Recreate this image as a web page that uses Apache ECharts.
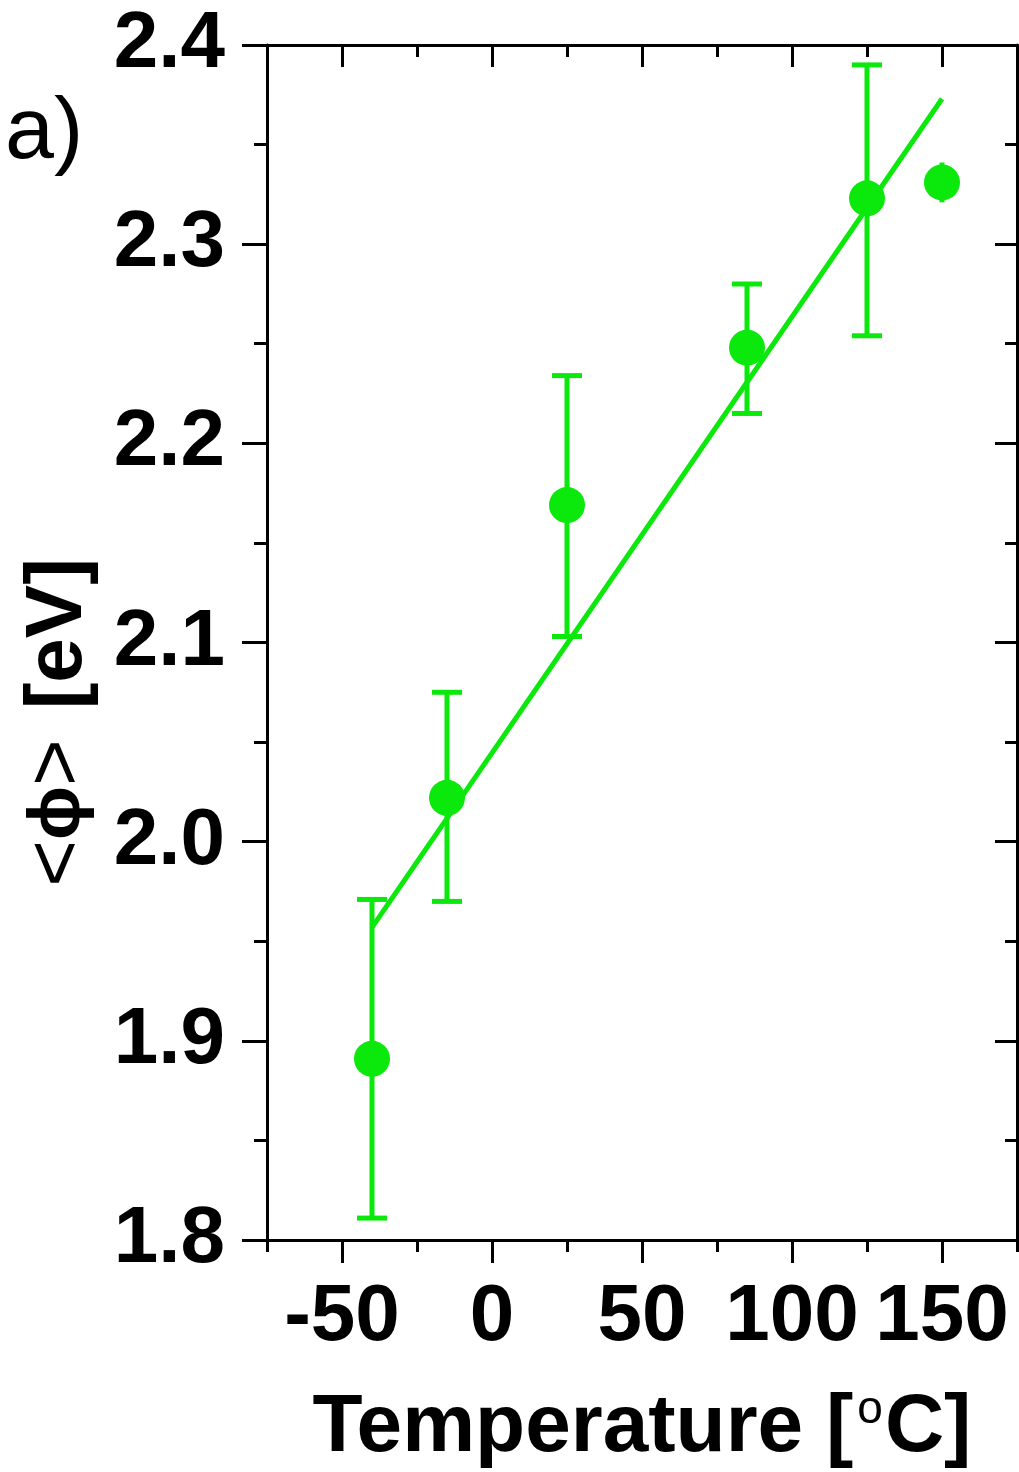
<!DOCTYPE html>
<html><head><meta charset="utf-8">
<script src="https://cdn.jsdelivr.net/npm/echarts@6/dist/echarts.min.js"></script>
<style>html,body{margin:0;padding:0;background:#fff}#c{width:1019px;height:1472px}</style>
</head><body><div id="c"></div>
<script>
// ---- data ----
const temperatures = [-40, -15, 25, 85, 125, 150];
const phiMean  = [1.891, 2.022, 2.169, 2.248, 2.323, 2.331];
const phiUpper = [1.971, 2.075, 2.234, 2.280, 2.390, 2.341];
const phiLower = [1.811, 1.970, 2.103, 2.215, 2.254, 2.321];
const fitX = [-40, 150];
const fitY = [1.957, 2.373];
const xRange = [-75, 175];
const xMajorTicks = [-50, 0, 50, 100, 150];
const xMinorTicks = [-75, -25, 25, 75, 125, 175];
const yTicks = [1.8, 1.9, 2.0, 2.1, 2.2, 2.3, 2.4];

const GREEN = '#0be80b';
const FONT = 'Liberation Sans, Arial, sans-serif';

const chart = echarts.init(document.getElementById('c'), null, {renderer: 'canvas'});

function xAxisDef(pos, ticks, len, opts) {
  return Object.assign({
    type: 'value', position: pos, min: xRange[0], max: xRange[1],
    axisLine: {show: false, lineStyle: {color: '#000', width: 3}},
    axisTick: {show: true, customValues: ticks, length: len, inside: pos === 'top',
               lineStyle: {color: '#000', width: 3}},
    axisLabel: {show: false},
    splitLine: {show: false}
  }, opts || {});
}

const option = {
  animation: false,
  backgroundColor: '#fff',
  grid: {left: 267, right: 2, top: 45, bottom: 232, containLabel: false, outerBoundsMode: 'none'},
  xAxis: [
    xAxisDef('bottom', xMajorTicks, 23, {
      axisLine: {show: true, onZero: false, lineStyle: {color: '#000', width: 3}},
      axisLabel: {show: true, customValues: xMajorTicks, margin: 38, fontSize: 80, fontWeight: 'bold',
                  fontFamily: FONT, color: '#000'},
      name: 'Temperature [{o|o}C]',
      nameLocation: 'middle', nameGap: 147, nameMoveOverlap: false,
      nameTextStyle: {fontSize: 82, fontWeight: 'bold', fontFamily: FONT, color: '#000',
        rich: {o: {fontSize: 46, fontWeight: 'normal', fontFamily: FONT, color: '#000', verticalAlign: 'top', padding: [0, 2, 0, 4]}}}
    }),
    xAxisDef('bottom', xMinorTicks, 12),
    xAxisDef('top', xMajorTicks, 22, {axisLine: {show: true, onZero: false, lineStyle: {color: '#000', width: 3}}}),
    xAxisDef('top', xMinorTicks, 12)
  ],
  yAxis: [
    {
      type: 'value', position: 'left', min: yTicks[0], max: yTicks[yTicks.length - 1], interval: 0.1,
      axisLine: {show: true, onZero: false, lineStyle: {color: '#000', width: 3}},
      axisTick: {show: true, length: 25, lineStyle: {color: '#000', width: 3}},
      minorTick: {show: true, splitNumber: 2, length: 13, lineStyle: {color: '#000', width: 3}},
      axisLabel: {margin: 42, fontSize: 80, fontWeight: 'bold', fontFamily: FONT, color: '#000',
                  formatter: v => v.toFixed(1)},
      splitLine: {show: false},
      name: '{s|<}{p|ϕ}{r|>}[eV]',
      nameLocation: 'middle', nameGap: 168, nameRotate: 90, nameMoveOverlap: false,
      nameTextStyle: {fontSize: 80, fontWeight: 'bold', fontFamily: FONT, color: '#000',
        padding: [0, 160, 0, 0],
        rich: {
          s: {fontSize: 80, fontWeight: 'normal', fontFamily: FONT, color: '#000'},
          r: {fontSize: 80, fontWeight: 'normal', fontFamily: FONT, color: '#000', padding: [0, 30, 0, 0]},
          p: {fontSize: 72, fontWeight: 'bold', fontFamily: FONT, color: '#000'}
        }}
    },
    {
      type: 'value', position: 'right', min: yTicks[0], max: yTicks[yTicks.length - 1], interval: 0.1,
      axisLine: {show: true, onZero: false, lineStyle: {color: '#000', width: 3}},
      axisTick: {show: true, inside: true, length: 22, lineStyle: {color: '#000', width: 3}},
      minorTick: {show: true, splitNumber: 2, length: 12, lineStyle: {color: '#000', width: 3}},
      axisLabel: {show: false},
      splitLine: {show: false}
    }
  ],
  graphic: [{
    type: 'text', left: 5, top: 90,
    style: {text: 'a)', font: 'normal 88px ' + FONT, fill: '#000'}
  }],
  series: [
    {
      type: 'custom', xAxisIndex: 0, yAxisIndex: 0, z: 2,
      data: temperatures.map((t, i) => [t, phiLower[i], phiUpper[i]]),
      encode: {x: 0, y: [1, 2]},
      renderItem: function (params, api) {
        const x = api.value(0);
        const pLo = api.coord([x, api.value(1)]);
        const pHi = api.coord([x, api.value(2)]);
        const half = 15;
        const st = {stroke: GREEN, lineWidth: 5};
        const children = [
          {type: 'line', shape: {x1: pHi[0], y1: pHi[1], x2: pLo[0], y2: pLo[1]}, style: st}
        ];
        if (pLo[1] - pHi[1] > 45) {
          children.push({type: 'line', shape: {x1: pHi[0] - half, y1: pHi[1], x2: pHi[0] + half, y2: pHi[1]}, style: st});
          children.push({type: 'line', shape: {x1: pLo[0] - half, y1: pLo[1], x2: pLo[0] + half, y2: pLo[1]}, style: st});
        }
        return {type: 'group', children: children};
      }
    },
    {
      type: 'line', xAxisIndex: 0, yAxisIndex: 0, z: 3,
      data: fitX.map((x, i) => [x, fitY[i]]),
      showSymbol: false, symbol: 'none',
      lineStyle: {color: GREEN, width: 5}
    },
    {
      type: 'scatter', xAxisIndex: 0, yAxisIndex: 0, z: 4,
      data: temperatures.map((t, i) => [t, phiMean[i]]),
      symbol: 'circle', symbolSize: 36,
      itemStyle: {color: GREEN, opacity: 1}
    }
  ]
};
chart.setOption(option);
</script>
</body></html>
